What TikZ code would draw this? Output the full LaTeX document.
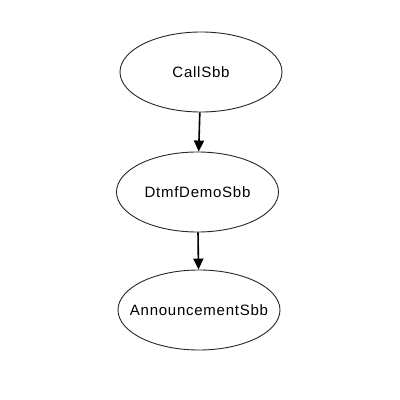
\documentclass[tikz,border=0pt]{standalone}
\usepackage{fontspec}
\setmainfont{Liberation Sans}
\newfontfamily\sbbfont[LetterSpace=5]{Liberation Sans}
\usepackage{tikz}
\usetikzlibrary{arrows.meta,positioning,shapes.geometric}

\begin{document}
\begin{tikzpicture}[
    x=1pt,y=1pt,
    sbb/.style={draw=black!85, ellipse, line width=0.9pt, minimum width=162pt, minimum height=80pt, inner xsep=-16pt, inner ysep=0pt, font=\sbbfont\fontsize{15}{18}\selectfont},
    edge/.style={-{Triangle[length=11pt,width=10pt]}, draw=black, line width=1.6pt}
  ]
    \useasboundingbox (0,0) rectangle (400,400);

    \node[sbb] (call) at (201,328) {CallSbb};
    \node[sbb] (dtmf) at (197.5,208) {DtmfDemoSbb};
    \node[sbb] (ann) at (199,90) {AnnouncementSbb};

    \draw[edge] (call) -- (dtmf);
    \draw[edge] (dtmf) -- (ann);
  \end{tikzpicture}
\end{document}
